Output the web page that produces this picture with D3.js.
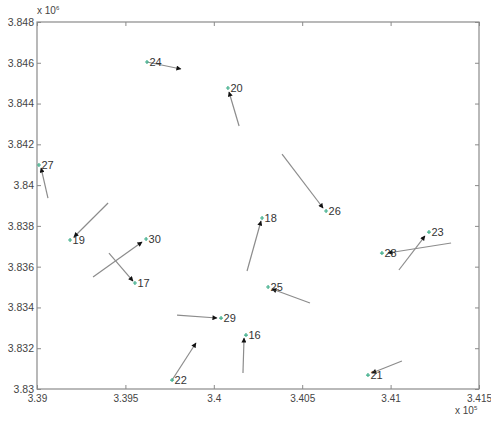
<!DOCTYPE html>
<html>
<head>
<style>
  body { margin: 0; background: #fff; }
  text { font-family: "Liberation Sans", Arial, sans-serif; }
</style>
</head>
<body>
<svg width="491" height="421"></svg>
<script src="https://d3js.org/d3.v7.min.js"></script>
<script>
// station ids and their positions (metres)
var ids   = [24, 20, 27, 19, 30, 17, 18, 25, 29, 16, 22, 26, 28, 23, 21];
var px    = [339622, 340080, 339011, 339187, 339617, 339554, 340273, 340307, 340041, 340182, 339764, 340635, 340951, 341217, 340872];
var py    = [3846038, 3844763, 3840986, 3837307, 3837356, 3835198, 3838386, 3835002, 3833481, 3832647, 3830440, 3838730, 3836669, 3837699, 3830685];
// arrow tails and heads
var tailX = [339622, 340143, 339062, 339402, 339317, 339407, 340188, 340544, 339792, 340165, 339764, 340386, 341342, 341047, 341064];
var tailY = [3846038, 3842899, 3839367, 3839122, 3835492, 3836669, 3835787, 3834217, 3833628, 3830783, 3830440, 3841525, 3837160, 3835836, 3831372];
var headX = [339814, 340086, 339023, 339209, 339594, 339543, 340267, 340329, 340018, 340171, 339899, 340618, 340985, 341194, 340894];
var headY = [3845695, 3844566, 3840839, 3837454, 3837209, 3835296, 3838239, 3834904, 3833481, 3832500, 3832255, 3838877, 3836669, 3837503, 3830783];

var xTicks = [339000, 339500, 340000, 340500, 341000, 341500];
var yTicks = [3830000, 3832000, 3834000, 3836000, 3838000, 3840000, 3842000, 3844000, 3846000, 3848000];

var svg = d3.select("svg");
var mLeft = 37, mRight = 479, mTop = 22, mBottom = 389;

var x = d3.scaleLinear().domain([339000, 341500]).range([mLeft, mRight]);
var y = d3.scaleLinear().domain([3830000, 3848000]).range([mBottom, mTop]);

var axisColor = "#8a8a8a", labelColor = "#444";

// box
svg.append("rect")
  .attr("x", mLeft).attr("y", mTop)
  .attr("width", mRight - mLeft).attr("height", mBottom - mTop)
  .attr("fill", "none").attr("stroke", axisColor).attr("stroke-width", 1.2);

var fmtX = function(d) { return String(+(d / 1e5).toFixed(3)); };
var fmtY = function(d) { return String(+(d / 1e6).toFixed(3)); };

function styleAxis(size) {
  return function(g) {
    g.select(".domain").remove();
    g.selectAll(".tick line").attr("stroke", axisColor);
    g.selectAll(".tick text").attr("fill", labelColor).style("font-size", size);
  };
}

svg.append("g").attr("transform", "translate(0," + mBottom + ")")
  .call(d3.axisBottom(x).tickValues(xTicks).tickFormat(fmtX).tickSize(-4).tickPadding(6))
  .call(styleAxis("10px"));
svg.append("g").attr("transform", "translate(0," + mTop + ")")
  .call(d3.axisTop(x).tickValues(xTicks).tickFormat("").tickSize(-4))
  .call(styleAxis("10px"));
svg.append("g").attr("transform", "translate(" + mLeft + ",0)")
  .call(d3.axisLeft(y).tickValues(yTicks).tickFormat(fmtY).tickSize(-4).tickPadding(3))
  .call(styleAxis("10.5px"));
svg.append("g").attr("transform", "translate(" + mRight + ",0)")
  .call(d3.axisRight(y).tickValues(yTicks).tickFormat("").tickSize(-4))
  .call(styleAxis("10px"));

// exponent labels
function expLabel(xp, yp, e) {
  var t = svg.append("text").attr("x", xp).attr("y", yp)
    .attr("fill", labelColor).style("font-size", "10px");
  t.append("tspan").text("x 10");
  t.append("tspan").attr("dy", -4).style("font-size", "6px").text(e);
}
expLabel(37, 14, "6");
expLabel(455, 414, "5");

// arrows
svg.append("defs").append("marker")
  .attr("id", "head").attr("viewBox", "0 0 10 10")
  .attr("refX", 9).attr("refY", 5)
  .attr("markerWidth", 6.5).attr("markerHeight", 5)
  .attr("markerUnits", "userSpaceOnUse")
  .attr("orient", "auto")
  .append("path").attr("d", "M0,0L10,5L0,10Z").attr("fill", "#111");

var g = svg.append("g");
ids.forEach(function(id, i) {
  g.append("line")
    .attr("x1", x(tailX[i])).attr("y1", y(tailY[i]))
    .attr("x2", x(headX[i])).attr("y2", y(headY[i]))
    .attr("stroke", "#8c8c8c").attr("stroke-width", 1.2)
    .attr("marker-end", "url(#head)");
});

// station markers and labels
ids.forEach(function(id, i) {
  var cx = x(px[i]), cy = y(py[i]);
  g.append("path")
    .attr("d", "M" + (cx - 2) + "," + cy + "H" + (cx + 2) + "M" + cx + "," + (cy - 2) + "V" + (cy + 2))
    .attr("stroke", "#3fae8a").attr("stroke-width", 1.2);
  g.append("text")
    .attr("x", cx + 2.5).attr("y", cy + 4)
    .attr("fill", "#333").style("font-size", "11px")
    .text(id);
});
</script>
</body>
</html>
